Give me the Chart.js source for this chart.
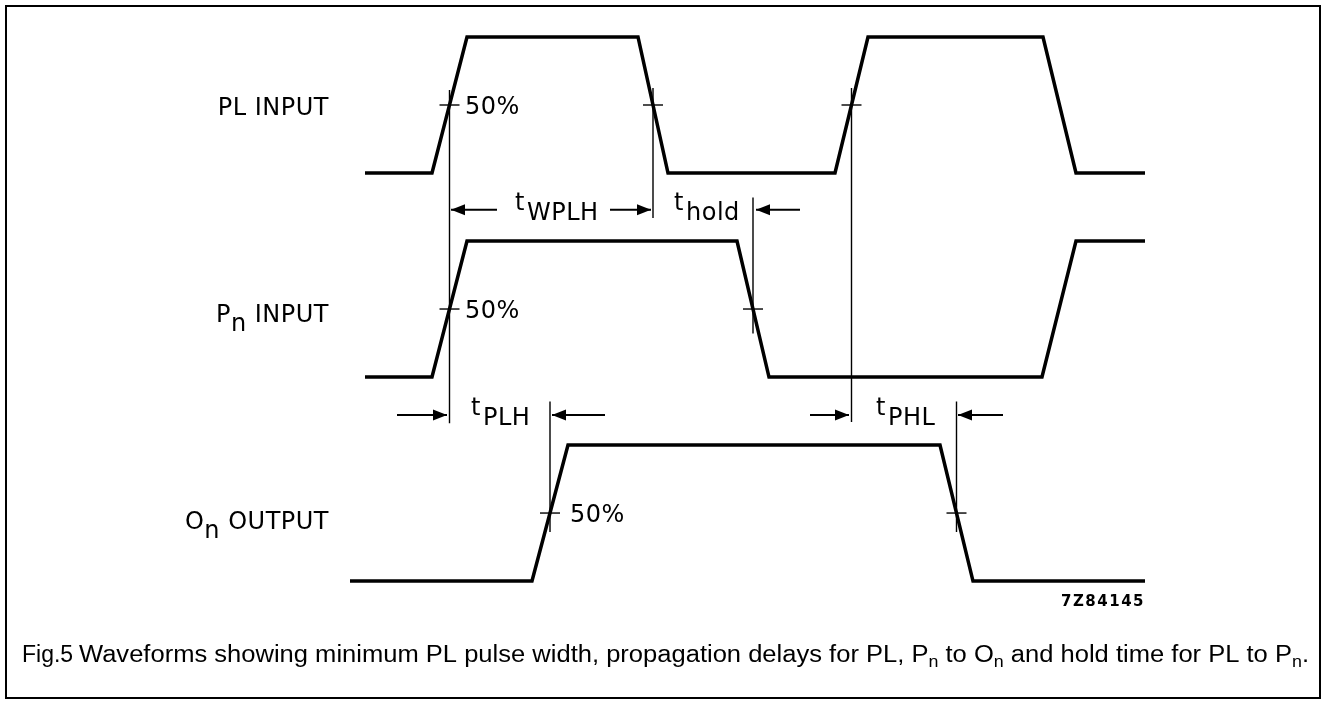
<!DOCTYPE html>
<html><head><meta charset="utf-8">
<script src="https://cdn.jsdelivr.net/npm/chart.js@4.4.1/dist/chart.umd.min.js"></script>
<style>html,body{margin:0;padding:0;background:#fff;}#wrap{width:1326px;height:704px;}</style>
</head><body><div id="wrap"><canvas id="c" width="1326" height="704"></canvas></div>
<script>
// ---- waveform data (time in arbitrary units, level 0 = low, 1 = high) ----
const plTimes  = [365, 432, 467, 638, 668, 835, 868, 1043, 1076, 1145];
const plLevels = [0, 0, 1, 1, 0, 0, 1, 1, 0, 0];
const pnTimes  = [365, 432, 467, 737, 769, 1042, 1076, 1145];
const pnLevels = [0, 0, 1, 1, 0, 0, 1, 1];
const onTimes  = [350, 532, 568, 940, 973, 1145];
const onLevels = [0, 0, 1, 1, 0, 0];
const laneBase = [3, 1.5, 0];

// ---- 50% reference markers ----
const markerTimes  = [449.5, 653, 753, 851.5, 550, 956.5];
const markerTop    = [3.61, 3.625, 2.82, 3.625, 1.32, 1.32];
const markerBottom = [1.16, 2.67, 1.82, 1.17, 0.36, 0.36];
const tickTimes  = [449.5, 653, 851.5, 449.5, 753, 550, 956.5];
const tickLevels = [3.5, 3.5, 3.5, 2, 2, 0.5, 0.5];

// ---- timing arrows ----
const arrowFrom  = [497, 610, 800, 397, 605, 810, 1003];
const arrowTo    = [451, 651, 756, 447, 552, 849, 958];
const arrowLevel = [2.73, 2.73, 2.73, 1.22, 1.22, 1.22, 1.22];

// ---- text ----
const timingSubs  = ['WPLH', 'hold', 'PLH', 'PHL'];
const timingAt    = [515, 674, 471, 876];
const timingLevel = [2.73, 2.73, 1.22, 1.22];
const pctAt    = [465, 465, 570];
const pctLevel = [3.5, 2, 0.5];
const laneLabels = [
  [{t:'PL INPUT'}],
  [{t:'P'}, {t:'n', sub:true}, {t:' INPUT'}],
  [{t:'O'}, {t:'n', sub:true}, {t:' OUTPUT'}]
];
const laneLabelLevel = [3.49, 1.97, 0.45];
const figCode = '7Z84145';
const captionHead = 'Fig.5';
const captionBody = [
  {t:'Waveforms showing minimum PL pulse width, propagation delays for PL, P'}, {t:'n', sub:true},
  {t:' to O'}, {t:'n', sub:true}, {t:' and hold time for PL to P'}, {t:'n', sub:true}, {t:'.'}
];

const wave = (ts, ls, base) => ts.map((t, i) => ({x: t, y: base + ls[i]}));
const datasets = [];
[[plTimes, plLevels], [pnTimes, pnLevels], [onTimes, onLevels]].forEach((w, k) => {
  datasets.push({data: wave(w[0], w[1], laneBase[k]), borderColor: '#000', borderWidth: 3.5,
    pointRadius: 0, showLine: true, tension: 0, borderJoinStyle: 'miter', borderCapStyle: 'butt'});
});
markerTimes.forEach((t, i) => datasets.push({data: [{x: t, y: markerTop[i]}, {x: t, y: markerBottom[i]}],
  borderColor: '#000', borderWidth: 1.4, pointRadius: 0, showLine: true}));
tickTimes.forEach((t, i) => datasets.push({data: [{x: t - 10, y: tickLevels[i]}, {x: t + 10, y: tickLevels[i]}],
  borderColor: '#000', borderWidth: 1.4, pointRadius: 0, showLine: true}));
arrowFrom.forEach((f, i) => datasets.push({data: [{x: f, y: arrowLevel[i]}, {x: arrowTo[i], y: arrowLevel[i]}],
  borderColor: '#000', borderWidth: 2, pointRadius: 0, showLine: true}));

function drawRich(ctx, parts, x, y, align, font, subFont, subDy, spacing) {
  let w = 0;
  parts.forEach(p => { ctx.font = p.sub ? subFont : font; ctx.letterSpacing = spacing + 'px'; w += ctx.measureText(p.t).width; });
  let cx = align === 'right' ? x - w : x;
  parts.forEach(p => {
    ctx.font = p.sub ? subFont : font; ctx.letterSpacing = spacing + 'px';
    ctx.fillText(p.t, cx, y + (p.sub ? subDy : 0));
    cx += ctx.measureText(p.t).width;
  });
  return w;
}

const diagram = {
  id: 'diagram',
  afterDatasetsDraw(chart) {
    const ctx = chart.ctx, xs = chart.scales.x, ys = chart.scales.y;
    const X = t => xs.getPixelForValue(t), Y = v => ys.getPixelForValue(v);
    ctx.save();
    ctx.fillStyle = '#000'; ctx.strokeStyle = '#000';
    ctx.textAlign = 'left'; ctx.textBaseline = 'alphabetic';
    // frame
    ctx.lineWidth = 2; ctx.strokeRect(6, 6, 1314, 692);
    // arrowheads
    arrowFrom.forEach((f, i) => {
      const tx = X(arrowTo[i]), ty = Y(arrowLevel[i]);
      const d = Math.sign(arrowTo[i] - f);
      ctx.beginPath(); ctx.moveTo(tx, ty); ctx.lineTo(tx - d * 14, ty - 5.5); ctx.lineTo(tx - d * 14, ty + 5.5);
      ctx.closePath(); ctx.fill();
    });
    const F = '24px "DejaVu Sans"';
    // lane labels
    laneLabels.forEach((p, i) => drawRich(ctx, p, 329, Y(laneLabelLevel[i]) + 9, 'right', F, F, 9, 0.5));
    // 50%
    pctAt.forEach((t, i) => drawRich(ctx, [{t:'50%'}], X(t), Y(pctLevel[i]) + 9, 'left', F, F, 0, 0.5));
    // timing labels
    timingSubs.forEach((s, i) => {
      const x = X(timingAt[i]), y = Y(timingLevel[i]);
      ctx.font = F; ctx.letterSpacing = '0px';
      ctx.fillText('t', x, y);
      drawRich(ctx, [{t: s}], x + 12, y + 10, 'left', F, F, 0, 0.5);
    });
    // figure code
    ctx.font = 'bold 15px "DejaVu Sans"'; ctx.letterSpacing = '1.5px';
    const cw = ctx.measureText(figCode).width;
    ctx.fillText(figCode, 1145 - cw, 606);
    // caption: body stretched between its left and right edges
    const fs = 23;
    const mk = s => s + 'px "Liberation Sans", Arial, sans-serif';
    ctx.letterSpacing = '0px';
    ctx.font = mk(fs); ctx.fillText(captionHead, 22, 662);
    let w = 0;
    captionBody.forEach(p => { ctx.font = mk(p.sub ? fs * 0.7 : fs); w += ctx.measureText(p.t).width; });
    const sx = (1309 - 79) / w;
    ctx.save(); ctx.translate(79, 0); ctx.scale(sx, 1);
    drawRich(ctx, captionBody, 0, 662, 'left', mk(fs), mk(fs * 0.7), 5, 0);
    ctx.restore();
    ctx.restore();
  }
};

new Chart(document.getElementById('c'), {
  type: 'scatter',
  data: {datasets},
  options: {
    responsive: false, animation: false, devicePixelRatio: 1,
    layout: {padding: 0},
    plugins: {legend: {display: false}, tooltip: {enabled: false}},
    scales: {
      x: {type: 'linear', min: 0, max: 1326, display: false},
      y: {type: 'linear', min: -0.904, max: 4.272, display: false}
    }
  },
  plugins: [diagram]
});
</script></body></html>
